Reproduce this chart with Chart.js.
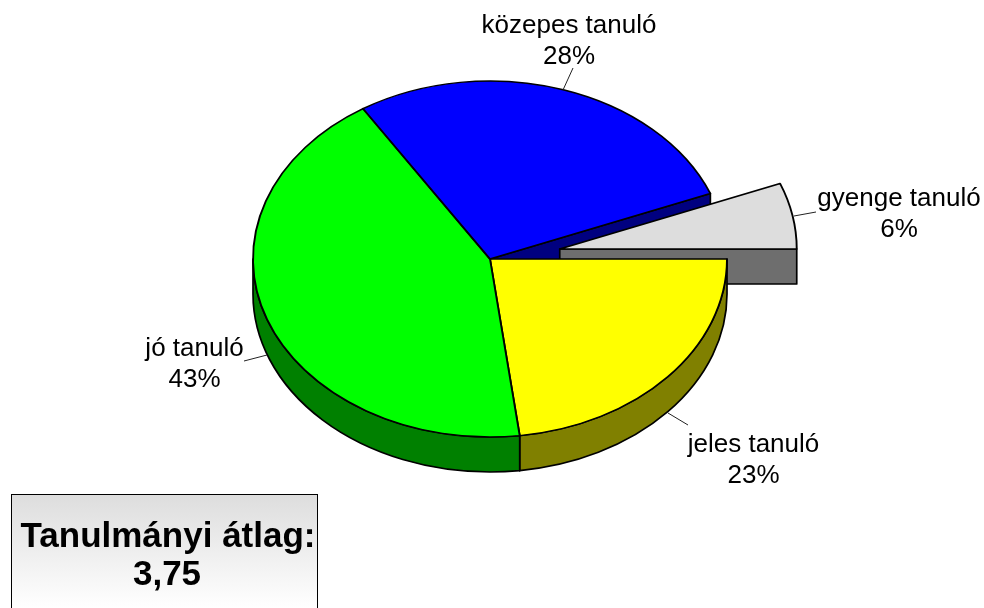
<!DOCTYPE html>
<html lang="hu">
<head>
<meta charset="utf-8">
<title>Tanulmányi átlag</title>
<style>html,body{margin:0;padding:0;background:#fff;overflow:hidden}canvas{display:block}</style>
<script src="https://cdn.jsdelivr.net/npm/chart.js@4"></script>
</head>
<body>
<canvas id="c" width="984" height="608"></canvas>
<script>
const categories = ['jeles tanuló', 'jó tanuló', 'közepes tanuló', 'gyenge tanuló'];
const shares = [23, 43, 28, 6];
const topColors = ['#FFFF00', '#00FF00', '#0000FF', '#DDDDDD'];
const wallColors = ['#808000', '#008000', '#000080', '#6E6E6E'];
const explode = [0, 0, 0, 71];
const boxLines = ['Tanulmányi átlag:', '3,75'];

const SQUASH = 178 / 237, DEPTH = 35, RADIUS = 237;
const FONT = '"Liberation Sans", Arial, sans-serif';
const labelLayout = [
  {x: 753.5, y: 444, lead: [668, 413, 688, 425]},
  {x: 194.5, y: 348, lead: [267, 355, 244, 361]},
  {x: 569, y: 25, lead: [563, 90, 573, 68]},
  {x: 899, y: 198, lead: [794, 216, 816, 212]}
];

let pivotY = 0;
const screenY = (y) => pivotY + (y - pivotY) * SQUASH;

const pie3d = {
  id: 'pie3d',
  afterDatasetsUpdate(chart) {
    const arcs = chart.getDatasetMeta(0).data;
    pivotY = arcs[0].y;
    arcs.forEach((arc, i) => {
      const mid = (arc.startAngle + arc.endAngle) / 2;
      arc.x += Math.cos(mid) * explode[i];
      arc.y += Math.sin(mid) * explode[i];
    });
  },
  beforeDatasetsDraw(chart) {
    const ctx = chart.ctx;
    const arcs = chart.getDatasetMeta(0).data;
    ctx.save();
    ctx.lineWidth = 1.7;
    ctx.strokeStyle = '#000';
    ctx.lineJoin = 'round';
    // flat cut faces that look towards the viewer
    arcs.forEach((arc, i) => {
      const cx = arc.x, cy = screenY(arc.y), r = arc.outerRadius;
      const face = (a) => {
        const px = cx + Math.cos(a) * r, py = cy + Math.sin(a) * r * SQUASH;
        ctx.beginPath();
        ctx.moveTo(cx, cy);
        ctx.lineTo(px, py);
        ctx.lineTo(px, py + DEPTH);
        ctx.lineTo(cx, cy + DEPTH);
        ctx.closePath();
        ctx.fillStyle = wallColors[i];
        ctx.fill();
        ctx.stroke();
      };
      if (Math.cos(arc.startAngle) < -1e-6) face(arc.startAngle);
      if (Math.cos(arc.endAngle) > 1e-6) face(arc.endAngle);
    });
    // curved rim, only the front half of the ellipse is visible
    arcs.forEach((arc, i) => {
      const a0 = Math.max(arc.startAngle, 0), a1 = Math.min(arc.endAngle, Math.PI);
      if (a1 <= a0) return;
      const cx = arc.x, cy = screenY(arc.y), r = arc.outerRadius;
      ctx.beginPath();
      ctx.ellipse(cx, cy, r, r * SQUASH, 0, a0, a1);
      ctx.ellipse(cx, cy + DEPTH, r, r * SQUASH, 0, a1, a0, true);
      ctx.closePath();
      ctx.fillStyle = wallColors[i];
      ctx.fill();
      ctx.stroke();
    });
    ctx.restore();
  },
  beforeDatasetDraw(chart) {
    const ctx = chart.ctx;
    ctx.save();
    ctx.translate(0, pivotY);
    ctx.scale(1, SQUASH);
    ctx.translate(0, -pivotY);
  },
  afterDatasetDraw(chart) {
    chart.ctx.restore();
  },
  afterDraw(chart) {
    const ctx = chart.ctx;
    ctx.save();
    // leader lines and labels
    ctx.textAlign = 'center';
    ctx.textBaseline = 'middle';
    ctx.font = '26px ' + FONT;
    categories.forEach((name, i) => {
      const l = labelLayout[i];
      ctx.beginPath();
      ctx.moveTo(l.lead[0], l.lead[1]);
      ctx.lineTo(l.lead[2], l.lead[3]);
      ctx.strokeStyle = '#222';
      ctx.lineWidth = 1;
      ctx.stroke();
      ctx.fillStyle = '#000';
      ctx.fillText(name, l.x, l.y + 1);
      ctx.fillText(shares[i] + '%', l.x, l.y + 32);
    });
    // average box
    const g = ctx.createLinearGradient(0, 494, 0, 608);
    g.addColorStop(0, '#DDDDDD');
    g.addColorStop(1, '#FFFFFF');
    ctx.fillStyle = g;
    ctx.fillRect(11.5, 494.5, 306, 120);
    ctx.strokeStyle = '#000';
    ctx.lineWidth = 1;
    ctx.strokeRect(11.5, 494.5, 306, 120);
    ctx.fillStyle = '#000';
    ctx.font = 'bold 35px ' + FONT;
    ctx.fillText(boxLines[0], 168, 537);
    ctx.fillText(boxLines[1], 167, 575);
    ctx.restore();
  }
};

new Chart(document.getElementById('c'), {
  type: 'pie',
  data: {
    labels: categories,
    datasets: [{
      data: shares,
      backgroundColor: topColors,
      borderColor: '#000',
      borderWidth: 1.9,
      borderAlign: 'center',
      borderJoinStyle: 'round',
      clip: false
    }]
  },
  options: {
    responsive: false,
    animation: false,
    events: [],
    rotation: 90,
    radius: RADIUS,
    layout: {padding: {right: 4, bottom: 90}},
    plugins: {legend: {display: false}, tooltip: {enabled: false}, title: {display: false}}
  },
  plugins: [pie3d]
});
</script>
</body>
</html>
